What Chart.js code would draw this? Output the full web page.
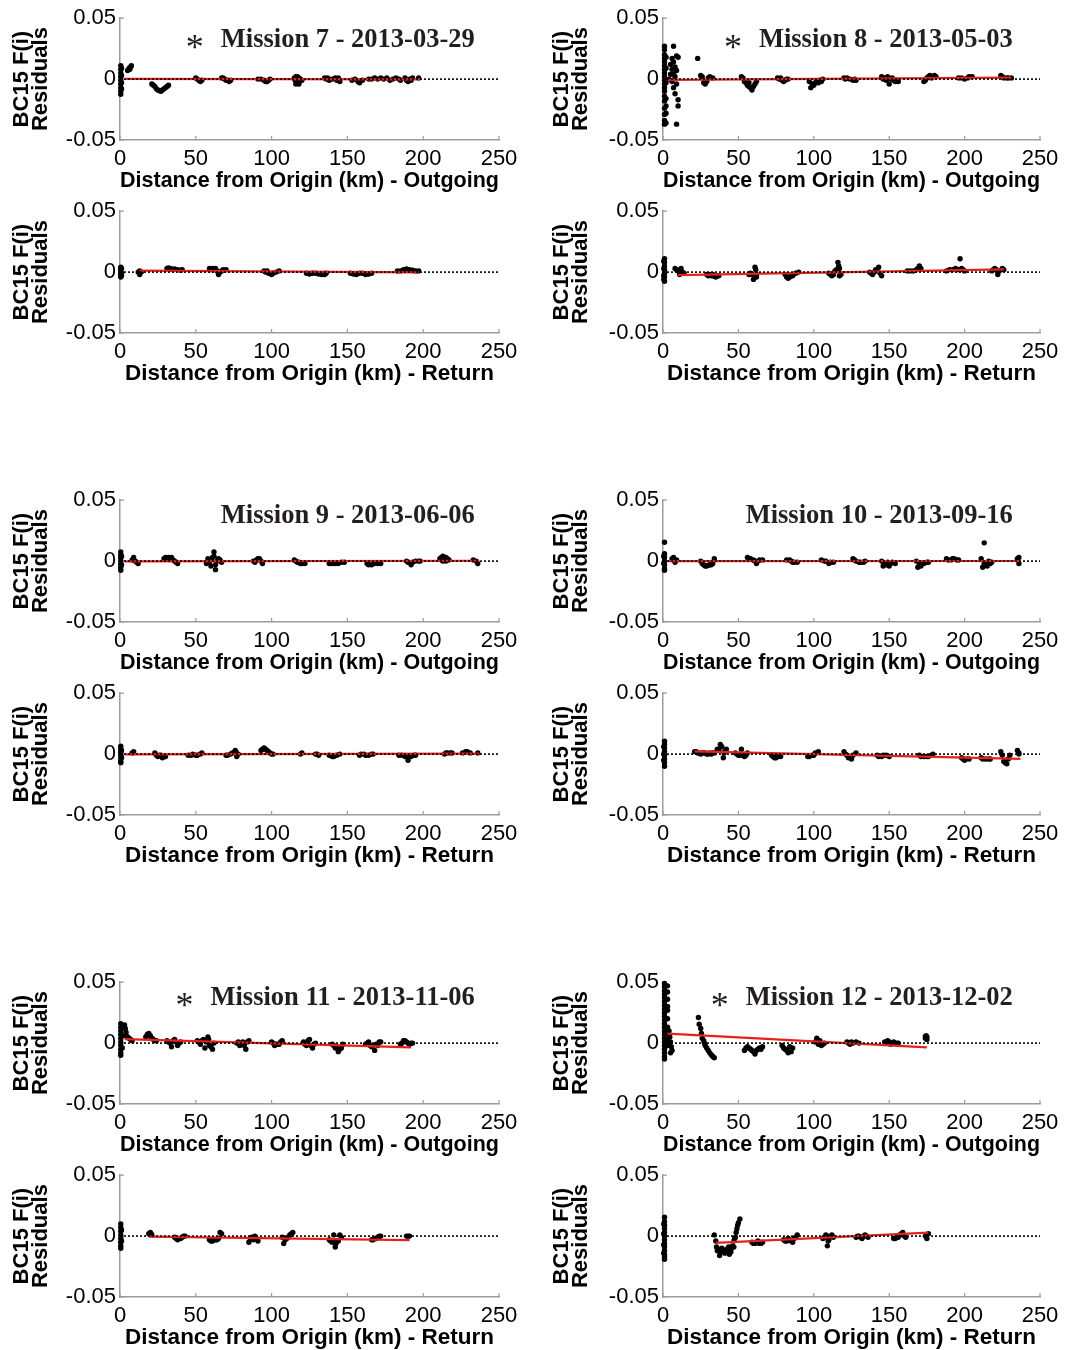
<!DOCTYPE html>
<html><head><meta charset="utf-8">
<script src="https://cdn.jsdelivr.net/npm/chart.js@4.4.0/dist/chart.umd.min.js"></script>
<style>
html,body{margin:0;padding:0;background:#fff;}
body{width:1068px;height:1350px;position:relative;overflow:hidden;}
canvas{position:absolute;}
</style></head><body>
<script>
// ---------- axis / tick values ----------
const xTicks = [0, 50, 100, 150, 200, 250];
const yTicks = [-0.05, 0, 0.05];
const yTickLabels = ['-0.05', '0', '0.05'];
const zeroLine = [[0, 0], [250, 0]];

// ---------- Mission 7 ----------
const m7OutPts = [[0.5,0.011],[0.5,0.008],[0.5,0.005],[0.5,0.002],[0.5,-0.001],[0.5,-0.004],[0.5,-0.007],[0.5,-0.01],[0.5,-0.0125],[1,0.009],[1,0.003],[1,-0.003],[1,-0.008],
[5,0.007],[6,0.009],[6.5,0.008],[7,0.01],[7.5,0.011],
[21,-0.004],[22,-0.005],[23,-0.006],[24,-0.008],[25,-0.009],[26,-0.0095],[27,-0.01],[28,-0.009],[29,-0.008],[30,-0.007],[31,-0.006],[32,-0.005],
[50,0.001],[51,0],[52,-0.001],[53,-0.002],[54,-0.001],
[67,0.001],[68,0.001],[69,0],[70,-0.001],[71,-0.001],[72,-0.002],[73,-0.001],
[91,0],[93,0],[95,-0.001],[96,-0.002],[97,-0.002],[98,-0.001],[99,0],
[115,0.001],[115.5,-0.001],[116,0.002],[116.5,-0.002],[117,0.002],[117.5,-0.003],[118,0.001],[118.5,-0.002],[119,0],[120,-0.001],[116,-0.004],[118,-0.004],
[135,0.001],[136,0],[137,0.001],[138,-0.001],[140,0],[142,0.001],[143,-0.001],[144,0.001],[145,-0.002],
[153,-0.001],[155,0],[157,-0.002],[158,-0.003],[160,-0.001],
[164,0],[166,0],[168,0.001],[170,0],[172,0.001],[174,0],[176,0.001],[178,-0.001],[180,0],[182,0.001],[184,0],[185,-0.001],
[188,0.001],[189,-0.001],[190,-0.002],[191,0],[192,-0.001],[193,0.001],[197,0.001]];
const m7OutFit = [[3,0.0002],[198,-0.0002]];

const m7RetPts = [[0.5,0.004],[0.5,0.002],[0.5,0],[0.5,-0.002],[0.5,-0.004],[1,0.003],[1,-0.001],[1,-0.003],
[12,0],[13,-0.002],[13,0.001],[14,0],
[31,0.003],[32,0.0035],[33,0.003],[34,0.0025],[35,0.002],[36,0.0025],[38,0.002],[40,0.0015],[41,0.002],
[59,0.003],[60,0.002],[61,0.003],[62,0.0025],[63,0.003],[64,0.001],[65,-0.002],[66,0],[67,0.001],[68,0.002],[70,0.002],
[95,0.001],[96,0],[97,0.001],[98,-0.001],[100,-0.002],[101,-0.001],[103,0],[105,0.001],
[123,-0.001],[125,-0.0015],[127,-0.001],[129,-0.001],[131,-0.0015],[133,-0.002],[135,-0.002],[136,-0.001],
[152,-0.001],[154,-0.0015],[156,-0.002],[158,-0.001],[160,-0.001],[162,-0.002],[164,-0.0015],[166,-0.001],
[183,0.001],[185,0.001],[187,0.002],[189,0.0025],[191,0.002],[193,0.0015],[195,0.001],[197,0.001]];
const m7RetFit = [[13,0.0012],[197,-0.0002]];

// ---------- Mission 8 ----------
const m8OutPts = [[1,0.027],[1,0.024],[1,0.02],[1,0.017],[1,0.014],[1,0.011],[1,0.008],[1,0.005],[1,0.002],[1,-0.001],[1,-0.004],[1,-0.007],[1,-0.01],[1,-0.014],[1,-0.018],[1,-0.024],[1,-0.029],[1,-0.034],[1,-0.037],
[2,0.018],[2,0.009],[2,-0.003],[2,-0.016],[2,-0.022],[2,-0.028],[2,-0.036],
[4,0],[5,0.012],[5,0.004],[6,0.017],[6,0.008],[6,-0.002],[7,0.027],[7,0.014],[7,0.004],[7,-0.007],[8,0.01],[8,0.002],[8,-0.012],[9,0.019],[9,0.007],[9,-0.004],[9,-0.037],[10,0.018],[10,-0.017],[10,-0.022],
[23,0.017],
[25,0.003],[26,0.002],[27,-0.003],[28,-0.004],[29,-0.002],[30,0.001],[31,0.002],[33,0.001],
[52,0.002],[53,0.001],[54,-0.002],[55,-0.003],[56,-0.005],[57,-0.006],[57,-0.003],[58,-0.007],[59,-0.009],[60,-0.006],[61,-0.004],[62,-0.002],
[76,0.001],[77,0],[78,0.001],[79,-0.001],[80,-0.002],[81,-0.001],[82,0],[83,0],
[97,-0.002],[98,-0.007],[99,-0.004],[100,-0.005],[101,-0.003],[102,-0.002],[103,-0.003],[104,-0.001],[105,-0.002],[106,0],
[120,0.001],[121,0],[122,0.001],[124,0],[126,-0.001],[127,0],[128,-0.001],
[145,0.002],[146,0],[147,0.001],[148,-0.001],[149,0.002],[150,-0.004],[151,0],[152,0.001],[153,-0.001],[154,-0.002],[155,-0.001],[156,-0.002],
[173,-0.002],[174,-0.001],[175,0.001],[176,0.002],[177,0.003],[178,0.001],[179,0.002],[180,0.003],[181,0.002],
[196,0.001],[198,0.001],[200,0],[202,0.001],[203,0.002],[205,0.002],
[224,0.003],[225,0.002],[226,0.001],[228,0.001],[229,0.001],[231,0.001]];
const m8OutFit = [[3,-0.0006],[231,0.0012]];

const m8RetPts = [[1,0.011],[1,0.008],[1,0.005],[1,0.002],[1,-0.001],[1,-0.004],[1,-0.0075],[0.5,0.009],[0.5,0.003],[0.5,-0.003],[0.5,-0.006],
[8,0.003],[9,0.002],[10,0.001],[11,-0.002],[11.5,0.002],[12,0.003],[13,0],[14,-0.001],
[29,-0.002],[30,-0.003],[31,-0.002],[32,-0.003],[33,-0.002],[34,-0.0035],[35,-0.004],[36,-0.003],[37,-0.003],
[57,-0.002],[58,-0.001],[59,-0.002],[60,-0.006],[61,0.004],[61.5,0.002],[62,-0.004],[62,-0.002],
[81,-0.002],[82,-0.004],[83,-0.005],[84,-0.004],[85,-0.003],[86,-0.003],[88,-0.001],[90,0],
[110,-0.001],[111,-0.002],[112,-0.003],[113,-0.002],[114,0.001],[115,0.002],[116,0.008],[116.5,0.005],[117,0.003],[117,-0.003],[118,-0.002],
[137,0],[138,-0.001],[139,-0.002],[140,0],[141,0.002],[142,0.001],[143,0.004],[144,-0.001],[145,-0.003],
[162,0.001],[164,0.001],[166,0.001],[168,0.002],[169,0.003],[170,0.005],[171,0.003],
[188,0.001],[190,0.002],[192,0.002],[194,0.003],[196,0.002],[197,0.011],[198,0.003],[199,0.002],[200,0.001],
[218,0.001],[219,0.002],[220,0.003],[221,0.002],[222,-0.002],[223,0.001],[225,0.003],[226,0.002]];
const m8RetFit = [[10,-0.0025],[226,0.0022]];

// ---------- Mission 9 ----------
const m9OutPts = [[0.5,0.0075],[0.5,0.005],[0.5,0.0025],[0.5,0],[0.5,-0.0025],[0.5,-0.005],[0.5,-0.0075],[1,0.004],[1,-0.003],
[8,0.001],[9,0.003],[10,0],[11,-0.001],[12,-0.002],
[29,0.002],[30,0.003],[31,0.002],[32,0.003],[33,0.002],[34,0.003],[35,0.001],[36,0],[37,-0.001],[38,-0.002],
[57,-0.002],[58,0.002],[59,-0.001],[60,-0.004],[61,0.003],[62,0.0075],[62,0.004],[63,-0.007],[63,-0.003],[64,0],[65,0.002],[66,0.001],[67,-0.001],
[88,0],[89,-0.001],[90,0.001],[91,0.002],[92,0.002],[93,0],[94,-0.002],
[115,0.001],[116,0],[117,-0.001],[118,-0.001],[119,-0.002],[120,-0.002],[122,-0.002],
[138,-0.002],[140,-0.002],[142,-0.002],[144,-0.002],[146,-0.001],[148,-0.001],
[163,-0.002],[164,-0.003],[166,-0.003],[168,-0.002],[170,-0.002],[172,-0.002],
[189,0],[190,-0.001],[192,-0.003],[193,-0.001],[195,0],[197,0],[198,0],
[211,0.002],[212,0.003],[212,0.001],[213,0.004],[213,0],[214,0.002],[215,0.003],[215,0],[216,0.002],[217,0.001],
[233,0.001],[235,0],[236,-0.002]];
const m9OutFit = [[3,-0.0003],[237,0.0003]];

const m9RetPts = [[0.5,0.0065],[0.5,0.004],[0.5,0.0015],[0.5,-0.001],[0.5,-0.0035],[0.5,-0.006],[0.5,-0.007],[1,0.003],[1,-0.003],
[8,0.001],[9,0.002],
[23,0.001],[24,-0.001],[25,-0.002],[26,-0.001],[27,-0.001],[28,-0.003],[29,-0.002],[30,-0.002],
[45,-0.001],[47,-0.001],[48,0],[50,-0.001],[51,-0.001],[53,0],[54,0.001],
[70,-0.001],[71,-0.001],[73,0],[74,0.001],[76,0.003],[76.5,0.002],[77,-0.002],[78,0],
[93,0.003],[94,0.004],[95,0.005],[96,0.004],[97,0.003],[98,0.002],[99,0.001],[100,0],[101,0],
[119,0],[120,0.001],[129,0],[130,0],[131,-0.001],
[138,-0.001],[140,-0.002],[141,-0.002],[143,-0.001],[145,0],
[158,-0.001],[159,0],[161,0],[162,-0.001],[164,-0.001],[166,0],[167,0],
[184,-0.001],[186,-0.001],[188,-0.002],[190,-0.005],[191,-0.002],[192,-0.002],[194,-0.001],[195,-0.001],
[214,0],[215,0.001],[216,0.001],[218,0.001],[219,0.001],
[226,0.001],[228,0.002],[229,0.002],[231,0.001],[236,0.001]];
const m9RetFit = [[3,-0.0002],[237,0.0004]];

// ---------- Mission 10 ----------
const m10OutPts = [[1,0.0155],[1,0.006],[1,0.003],[1,0],[1,-0.003],[1,-0.006],[1,-0.0075],[0.5,0.004],[0.5,-0.002],
[6,0.002],[7,0.003],[7.5,0.001],[8,-0.001],[9,0.001],
[25,0],[26,-0.002],[27,-0.003],[28,-0.004],[29,-0.004],[30,-0.0035],[31,-0.003],[32,-0.003],[33,-0.002],[34,0.002],
[56,0.003],[57,0.002],[58,0.002],[60,0.001],[61,0],[62,-0.002],[63,0],[64,0.001],[66,0.001],
[82,0.001],[84,0.001],[85,0],[86,-0.001],[87,-0.001],[89,-0.001],
[105,0.001],[107,0],[108,0],[110,-0.002],[111,-0.001],[113,-0.001],
[126,0.002],[127,0.001],[128,0],[130,-0.001],[131,-0.001],[133,-0.001],[134,0],
[145,0],[146,-0.004],[147,-0.002],[148,-0.003],[149,-0.001],[150,-0.004],[151,-0.002],[152,-0.001],[154,-0.002],
[168,0],[169,-0.005],[170,-0.003],[171,-0.004],[172,-0.002],[173,-0.002],[175,-0.001],[176,-0.001],
[188,0.002],[189,0.001],[191,0.001],[192,0.002],[193,0.002],[195,0.001],[196,0.001],
[211,0.002],[212,-0.005],[213,0.015],[213,-0.002],[214,-0.003],[215,-0.004],[216,0],[217,-0.002],[218,-0.001],
[235,0.002],[236,-0.002],[236,0.003]];
const m10OutFit = [[3,0],[237,0.0001]];

const m10RetPts = [[1,0.0105],[1,0.008],[1,0.005],[1,0.002],[1,-0.001],[1,-0.004],[1,-0.007],[1,-0.01],[0.5,0.006],[0.5,0],[0.5,-0.005],
[21,0.002],[22,0.002],[23,0.001],[24,0.001],[25,0],[26,0.001],[27,0.001],[28,0.001],
[29,0],[30,0],[31,0.001],[32,0],[33,0.001],[34,0.001],
[36,0.004],[37,0.003],[38,0.008],[38.5,0.006],[39,0.006],[40,-0.003],[40.5,0.001],[41,0.002],[42,0.004],
[48,0.001],[49,0],[50,-0.001],[51,-0.001],[52,0.004],[53,-0.001],[54,-0.002],[55,-0.001],[56,0.001],
[72,-0.001],[73,-0.002],[74,-0.003],[75,-0.003],[76,-0.002],[78,-0.002],
[96,-0.002],[97,-0.002],[99,-0.001],[100,-0.001],[101,0.001],[103,0.002],
[120,0.002],[121,0],[122,-0.001],[123,-0.003],[124,-0.002],[125,-0.004],[126,-0.001],[128,0.001],
[142,-0.001],[143,-0.002],[145,-0.002],[146,-0.001],[148,-0.001],[150,-0.002],
[170,-0.001],[171,-0.002],[173,-0.002],[175,-0.002],[176,-0.002],[178,-0.001],[179,0],
[198,-0.003],[199,-0.004],[200,-0.005],[201,-0.004],[203,-0.004],
[211,-0.003],[212,-0.004],[214,-0.004],[216,-0.004],[217,-0.004],
[224,0.002],[225,-0.001],[226,-0.006],[227,-0.007],[228,-0.008],[229,-0.004],[230,-0.001],
[235,0.003],[236,0],[236,0.001]];
const m10RetFit = [[21,0.0022],[237,-0.004]];

// ---------- Mission 11 ----------
const m11OutPts = [[0.5,0.016],[0.5,0.013],[0.5,0.01],[0.5,0.007],[0.5,0.004],[0.5,0.001],[0.5,-0.002],[0.5,-0.005],[0.5,-0.008],[0.5,-0.01],[1.5,0.014],[1.5,0.006],[1.5,-0.004],
[3,0.015],[3.5,0.012],[4,0.009],[4,0.006],[5,0.005],[6,0.004],[7,0.003],[8,0.002],
[17,0.005],[18,0.007],[19,0.008],[19.5,0.006],[20,0.006],[21,0.004],[22,0.003],[23,0.002],[24,0.002],
[31,0.002],[32,0.001],[33,0],[34,-0.003],[35,0.002],[36,0.003],[37,0.001],[38,-0.002],[39,0],[40,0.001],
[51,0.002],[52,0.001],[53,-0.001],[54,0.002],[55,0.003],[56,-0.004],[57,0.001],[58,0.005],[58.5,0.003],[59,-0.002],[60,-0.003],[61,-0.005],[62,0],
[77,0],[78,0.001],[79,-0.002],[80,-0.001],[81,0.001],[82,-0.002],[83,-0.005],[84,0.001],[85,0.002],
[100,0.001],[101,0],[102,-0.002],[103,-0.001],[104,-0.001],[105,-0.001],[106,0.001],[107,0.002],
[121,0.001],[122,-0.001],[123,-0.002],[124,0.002],[125,0.003],[126,-0.002],[127,-0.004],[128,-0.001],[129,0],
[140,-0.001],[141,-0.002],[142,-0.004],[143,-0.003],[144,-0.007],[145,-0.005],[146,-0.004],[147,-0.001],
[162,-0.001],[163,0],[164,0.001],[165,-0.002],[166,-0.003],[167,-0.002],[168,-0.006],[169,-0.001],[170,-0.002],[171,0.001],[172,0.001],
[185,-0.001],[186,0],[187,0.002],[188,0.002],[189,0.001],[190,0],[191,-0.001],[192,0],[193,0]];
const m11OutFit = [[3,0.0033],[192,-0.0035]];

const m11RetPts = [[0.5,0.01],[0.5,0.007],[0.5,0.004],[0.5,0.001],[0.5,-0.002],[0.5,-0.005],[0.5,-0.008],[0.5,-0.01],[1,0.005],[1,-0.004],
[19,0.002],[20,0.003],[20.5,0.002],[21,0.001],
[36,-0.001],[37,-0.002],[38,-0.003],[39,-0.002],[40,-0.002],[41,-0.001],[42,0],[43,0],
[59,-0.003],[60,-0.004],[61,-0.004],[62,-0.003],[63,-0.003],[64,-0.003],[65,-0.002],[66,0.003],[67,0.002],
[85,-0.005],[86,-0.002],[87,-0.001],[88,-0.003],[89,0],[90,-0.002],[91,-0.004],
[107,-0.001],[108,-0.006],[109,-0.003],[110,-0.002],[111,-0.001],[112,0.001],[113,0.002],[114,0.003],
[138,-0.003],[139,-0.004],[140,-0.005],[141,0.001],[142,-0.009],[142.5,-0.006],[143,-0.004],[144,-0.004],[145,0.001],[146,-0.001],
[166,-0.003],[167,-0.003],[168,-0.002],[169,-0.002],[170,-0.001],[171,0],[172,0],
[189,0],[190,0],[191,0]];
const m11RetFit = [[19,-0.0005],[191,-0.0033]];

// ---------- Mission 12 ----------
const m12OutPts = [[1,0.049],[1,0.046],[1,0.043],[1,0.04],[1,0.037],[1,0.034],[1,0.031],[1,0.028],[1,0.025],[1,0.022],[1,0.019],[1,0.016],[1,0.013],[1,0.01],[1,0.007],[1,0.004],[1,0.001],[1,-0.002],[1,-0.005],[1,-0.008],[1,-0.011],[1,-0.013],
[3,0.047],[3,0.042],[3,0.036],[3,0.03],[3,0.027],[3,0.02],[3,0.013],[3,0.008],[3,0.003],[3,-0.002],
[4,0.01],[4.5,0.005],[5,0.001],[5.5,-0.003],[6,-0.006],[5,-0.008],
[23.5,0.021],[24,0.0155],[25,0.012],[25.5,0.008],[26,0.004],[27,0.002],[27.5,0],[28,-0.002],[29,-0.004],[30,-0.006],[31,-0.008],[32,-0.0095],[33,-0.011],[34,-0.012],
[54,-0.006],[55,-0.004],[56,-0.003],[57,-0.004],[58,-0.005],[59,-0.006],[60,-0.007],[61,-0.009],[62,-0.006],[63,-0.005],[64,-0.004],[65,-0.005],[66,-0.003],
[79,-0.002],[80,-0.004],[81,-0.005],[82,-0.006],[83,-0.008],[84,-0.003],[85,-0.007],[86,-0.004],
[101,0.001],[102,0.004],[102.5,0.002],[103,-0.001],[104,0.002],[105,-0.002],[106,-0.001],[107,0],
[122,0.001],[123,0],[124,-0.001],[125,0.001],[126,0],[128,0.001],[130,0],
[147,0.001],[148,0],[149,0.002],[150,0.001],[151,-0.001],[152,0],[153,0.001],[155,0],[156,0],
[174,0.004],[174,0.0055],[174.5,0.006],[175,0.003],[175,0.005]];
const m12OutFit = [[3,0.0078],[175,-0.0035]];

const m12RetPts = [[1,0.0155],[1,0.012],[1,0.009],[1,0.006],[1,0.003],[1,0],[1,-0.003],[1,-0.006],[1,-0.009],[1,-0.012],[1,-0.015],[1,-0.017],[1,-0.019],[0.5,0.01],[0.5,0.002],[0.5,-0.007],[0.5,-0.014],
[34,0.001],[35,-0.004],[35.5,-0.009],[36,-0.012],[37,-0.011],[37.5,-0.016],[38,-0.013],[39,-0.01],[40,-0.012],[41,-0.014],[42,-0.011],[43,-0.013],[43.5,-0.009],[44,-0.015],[45,-0.011],[45,-0.013],[46,-0.008],[47,-0.004],[47,-0.009],[47.5,-0.002],[48,-0.001],[48.5,0.003],[49,0.006],[49.5,0.009],[50,0.011],[51,0.014],
[59,-0.005],[60,-0.006],[61,-0.006],[62,-0.005],[63,-0.004],[64,-0.006],[65,-0.006],[66,-0.005],
[80,-0.003],[81,-0.004],[82,-0.004],[83,-0.002],[84,-0.003],[85,-0.004],[86,-0.005],[87,-0.002],[88,-0.001],[89,0.001],
[106,-0.002],[107,-0.001],[108,0.001],[109,-0.008],[109.5,-0.004],[110,-0.003],[111,0],[112,0.001],[113,-0.001],
[128,-0.001],[129,0],[130,0],[131,-0.001],[132,-0.002],[133,0],[134,0.001],[135,0],[136,-0.001],
[153,-0.002],[154,-0.002],[155,-0.001],[156,-0.001],[157,0.001],[158,0.002],[159,0.003],[160,0],[161,-0.001],
[174,0],[175,-0.002],[176,0.002]];
const m12RetFit = [[35,-0.0055],[176,0.0028]];

// ---------- panel definitions ----------
const panels = [
  {pts:m7OutPts,  fit:m7OutFit,  title:'Mission 7 - 2013-03-29',  star:true,  dir:'Outgoing', col:0, row:0},
  {pts:m7RetPts,  fit:m7RetFit,  title:null, star:false, dir:'Return', col:0, row:1},
  {pts:m8OutPts,  fit:m8OutFit,  title:'Mission 8 - 2013-05-03',  star:true,  dir:'Outgoing', col:1, row:0},
  {pts:m8RetPts,  fit:m8RetFit,  title:null, star:false, dir:'Return', col:1, row:1},
  {pts:m9OutPts,  fit:m9OutFit,  title:'Mission 9 - 2013-06-06',  star:false, dir:'Outgoing', col:0, row:2},
  {pts:m9RetPts,  fit:m9RetFit,  title:null, star:false, dir:'Return', col:0, row:3},
  {pts:m10OutPts, fit:m10OutFit, title:'Mission 10 - 2013-09-16', star:false, dir:'Outgoing', col:1, row:2},
  {pts:m10RetPts, fit:m10RetFit, title:null, star:false, dir:'Return', col:1, row:3},
  {pts:m11OutPts, fit:m11OutFit, title:'Mission 11 - 2013-11-06', star:true,  dir:'Outgoing', col:0, row:4},
  {pts:m11RetPts, fit:m11RetFit, title:null, star:false, dir:'Return', col:0, row:5},
  {pts:m12OutPts, fit:m12OutFit, title:'Mission 12 - 2013-12-02', star:true,  dir:'Outgoing', col:1, row:4},
  {pts:m12RetPts, fit:m12RetFit, title:null, star:false, dir:'Return', col:1, row:5}
];

// ---------- layout (pixels) ----------
const plotTops = [18, 211, 500, 693, 982, 1175];
const colLeft = [0, 540];
const colYAxisW = [120, 123];
const colPadRight = [29, 28];
const CW = 528, CH = 193;
const AXIS = '#9c9c9c';
const SANS = '"Liberation Sans", Arial, Helvetica, sans-serif';
const SERIF = '"Liberation Serif", "Times New Roman", serif';

const innerTicks = {
  id: 'innerTicks',
  beforeDatasetsDraw(chart) {
    const {ctx, chartArea: a} = chart;
    const xs = chart.scales.x, ys = chart.scales.y;
    ctx.save();
    ctx.strokeStyle = AXIS; ctx.lineWidth = 1.2;
    ctx.beginPath();
    xTicks.forEach(v => { const p = xs.getPixelForValue(v); ctx.moveTo(p, a.bottom); ctx.lineTo(p, a.bottom - 4); });
    yTicks.forEach(v => { const p = ys.getPixelForValue(v); ctx.moveTo(a.left, p); ctx.lineTo(a.left + 4, p); });
    ctx.stroke();
    ctx.restore();
  }
};

const panelTitle = {
  id: 'panelTitle',
  afterDatasetsDraw(chart, args, opts) {
    if (!opts.text) return;
    const ctx = chart.ctx;
    const xr = chart.scales.x.getPixelForValue(opts.x);
    const yb = chart.scales.y.getPixelForValue(opts.y);
    ctx.save();
    ctx.fillStyle = '#231f20';
    ctx.font = 'bold 26.5px ' + SERIF;
    ctx.textAlign = 'right'; ctx.textBaseline = 'alphabetic';
    ctx.fillText(opts.text, xr, yb);
    if (opts.star) {
      const w = ctx.measureText(opts.text).width;
      ctx.textAlign = 'center';
      ctx.font = '36px ' + SERIF;
      ctx.fillText('*', xr - w - 26, yb + 12);
    }
    ctx.restore();
  }
};

const toXY = arr => arr.map(([x, y]) => ({x, y}));

panels.forEach(p => {
  const cv = document.createElement('canvas');
  cv.width = CW; cv.height = CH;
  cv.style.left = colLeft[p.col] + 'px';
  cv.style.top = (plotTops[p.row] - 17) + 'px';
  cv.style.width = CW + 'px'; cv.style.height = CH + 'px';
  document.body.appendChild(cv);
  const yW = colYAxisW[p.col];
  new Chart(cv, {
    type: 'scatter',
    data: {
      datasets: [
        {data: toXY(zeroLine), showLine: true, borderColor: '#000', borderWidth: 1.6, borderDash: [2, 2], pointRadius: 0, clip: false},
        {data: toXY(p.fit), showLine: true, borderColor: '#e8201c', borderWidth: 2.2, pointRadius: 0, clip: false},
        {data: toXY(p.pts), showLine: false, backgroundColor: '#000', borderWidth: 0, pointRadius: 2.7, clip: false}
      ]
    },
    options: {
      responsive: false, animation: false, devicePixelRatio: 1,
      layout: {padding: {top: 17, left: 0, right: colPadRight[p.col], bottom: 2}},
      plugins: {
        legend: {display: false}, tooltip: {enabled: false},
        panelTitle: {text: p.title, star: p.star, x: p.col === 0 ? 234 : 232, y: p.row === 0 ? 0.0262 : 0.0310}
      },
      scales: {
        x: {
          type: 'linear', min: 0, max: 250,
          afterBuildTicks: s => { s.ticks = xTicks.map(v => ({value: v})); },
          afterFit: s => { s.height = 52; },
          grid: {display: false, drawTicks: false},
          border: {display: true, color: AXIS, width: 1.5},
          ticks: {padding: 6, color: '#000', font: {family: SANS, size: 22}, maxRotation: 0, callback: v => String(v)},
          title: {display: true, text: 'Distance from Origin (km) - ' + p.dir, color: '#000',
                  font: {family: SANS, size: 22.5, weight: 'bold', lineHeight: 1}, padding: {top: 0, bottom: 0}}
        },
        y: {
          type: 'linear', min: -0.05, max: 0.05,
          afterBuildTicks: s => { s.ticks = yTicks.map(v => ({value: v})); },
          afterFit: s => { s.width = yW; },
          grid: {display: false, drawTicks: false},
          border: {display: true, color: AXIS, width: 1.5},
          ticks: {padding: 4, color: '#000', font: {family: SANS, size: 22}, callback: (v, i) => yTickLabels[i]},
          title: {display: true, text: ['BC15 F(i)', 'Residuals'], color: '#000',
                  font: {family: SANS, size: 22, weight: 'bold', lineHeight: 0.88}, padding: {top: 12, bottom: 0}}
        }
      }
    },
    plugins: [innerTicks, panelTitle]
  });
});
</script>
</body></html>
